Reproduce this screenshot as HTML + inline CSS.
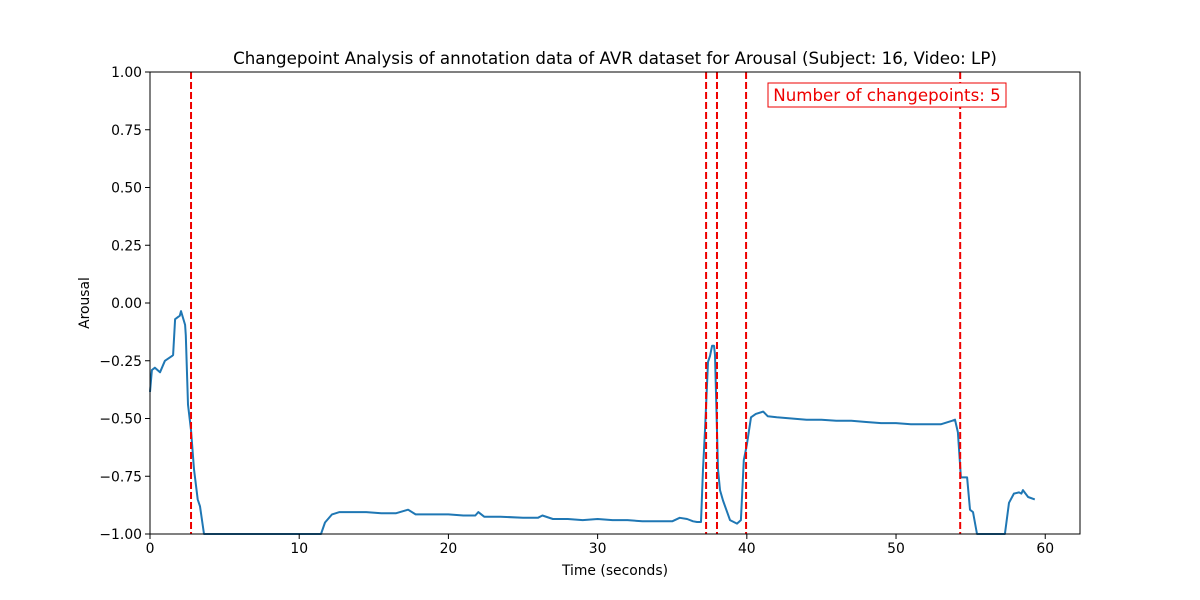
<!DOCTYPE html>
<html><head><meta charset="utf-8"><style>
body{margin:0;background:#fff;}
svg{display:block;font-family:"DejaVu Sans","Liberation Sans",sans-serif;}
</style></head><body>
<svg id="chart" width="1200" height="600">
<rect width="1200" height="600" fill="#fff"/>
<text x="615" y="64" text-anchor="middle" font-size="16.67">Changepoint Analysis of annotation data of AVR dataset for Arousal (Subject: 16, Video: LP)</text>
<g id="plot"></g>
</svg>
<script>
const times=[0,0.13,0.33,0.67,1.0,1.47,1.55,1.68,2.0,2.08,2.35,2.4,2.55,2.75,2.95,3.2,3.35,3.62,11.46,11.73,12.2,12.7,13.5,14.5,15.5,16.5,17.3,17.8,19,20,21,21.8,22,22.4,23.5,25,26,26.3,27,28,29,30,31,32,33,34,35,35.5,36,36.4,36.66,36.93,37.06,37.2,37.4,37.53,37.67,37.8,37.87,38.07,38.2,38.4,38.87,39.34,39.6,39.8,40.0,40.28,40.6,41.1,41.4,42,43,44,45,46,47,48,49,50,51,52,53,53.75,53.95,54.15,54.35,54.76,54.96,55.16,55.43,57.3,57.57,57.9,58.24,58.4,58.5,58.85,59.3];
const arousal=[-0.385,-0.29,-0.28,-0.30,-0.25,-0.23,-0.225,-0.07,-0.055,-0.035,-0.095,-0.14,-0.44,-0.55,-0.72,-0.85,-0.88,-1.0,-1.0,-0.95,-0.915,-0.905,-0.905,-0.905,-0.91,-0.91,-0.895,-0.915,-0.915,-0.915,-0.92,-0.92,-0.905,-0.925,-0.925,-0.93,-0.93,-0.92,-0.935,-0.935,-0.94,-0.935,-0.94,-0.94,-0.945,-0.945,-0.945,-0.93,-0.935,-0.945,-0.948,-0.948,-0.72,-0.55,-0.255,-0.23,-0.185,-0.185,-0.225,-0.72,-0.81,-0.855,-0.94,-0.955,-0.94,-0.68,-0.615,-0.495,-0.48,-0.47,-0.49,-0.495,-0.5,-0.505,-0.505,-0.51,-0.51,-0.515,-0.52,-0.52,-0.525,-0.525,-0.525,-0.51,-0.505,-0.56,-0.755,-0.755,-0.895,-0.905,-1.0,-1.0,-0.865,-0.825,-0.82,-0.825,-0.81,-0.84,-0.85];
const changepoints=[2.75,37.27,38.0,39.95,54.3];
const xTicks=[0,10,20,30,40,50,60];
const yTicks=[-1.00,-0.75,-0.50,-0.25,0.00,0.25,0.50,0.75,1.00];
const L=150,R=1080,T=72,B=534,XMAX=62.33;
const sx=t=>L+(t/XMAX)*(R-L);
const sy=v=>B-(v+1)/2*(B-T);
const NS="http://www.w3.org/2000/svg";
const g=document.getElementById('plot');
function mk(tag,attrs){const e=document.createElementNS(NS,tag);for(const k in attrs)e.setAttribute(k,attrs[k]);g.appendChild(e);return e;}
let d=times.map((t,i)=>(i?'L':'M')+sx(t).toFixed(1)+','+sy(arousal[i]).toFixed(1)).join('');
const line=mk('path',{d:d,fill:'none',stroke:'#1f77b4','stroke-width':2,'stroke-linejoin':'round'});


changepoints.forEach(c=>{const l=mk('line',{x1:sx(c),x2:sx(c),y1:T,y2:B,stroke:'#e00','stroke-width':2,'stroke-dasharray':'7,3'});

});
const frame=mk('rect',{x:L,y:T,width:R-L,height:B-T,fill:'none',stroke:'#000','stroke-width':1});


xTicks.forEach(t=>{mk('line',{x1:sx(t),x2:sx(t),y1:B,y2:B+5,stroke:'#000'});
const tx=mk('text',{x:sx(t),y:B+19,'text-anchor':'middle','font-size':13.9});tx.textContent=t;

});
yTicks.forEach(v=>{mk('line',{x1:L-5,x2:L,y1:sy(v),y2:sy(v),stroke:'#000'});
const tx=mk('text',{x:L-8,y:sy(v)+5,'text-anchor':'end','font-size':13.9});tx.textContent=v.toFixed(2).replace('-','−');

});
const xl=mk('text',{x:(L+R)/2,y:575,'text-anchor':'middle','font-size':13.9});xl.textContent='Time (seconds)';


const yl=mk('text',{x:89,y:(T+B)/2,'text-anchor':'middle','font-size':13.9,transform:'rotate(-90 89 '+((T+B)/2)+')'});yl.textContent='Arousal';


const box=mk('rect',{x:768,y:83,width:238,height:24,fill:'#fff',stroke:'#e00','stroke-width':1});


const bt=mk('text',{x:887,y:101,'text-anchor':'middle','font-size':16.67,fill:'#e00'});bt.textContent='Number of changepoints: 5';


</script>
</body></html>
